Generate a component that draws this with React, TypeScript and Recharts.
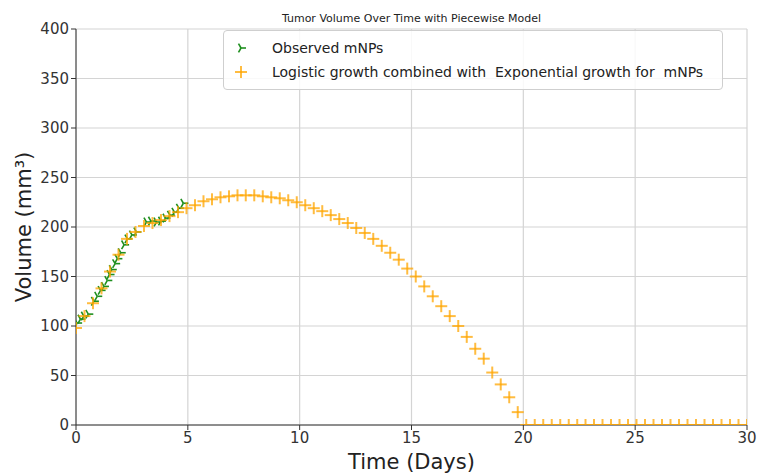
import React from 'react';
import { ScatterChart, Scatter, XAxis, YAxis, CartesianGrid, Legend } from 'recharts';

// observed tumour volume (mNPs group)
const observedDays = [
  0.05, 0.2, 0.35, 0.55, 0.8, 0.95, 1.1, 1.25, 1.4, 1.5, 1.6, 1.75, 1.85, 2.0,
  2.15, 2.3, 2.5, 2.7, 3.15, 3.35, 3.6, 3.8, 4.0, 4.2, 4.4, 4.6, 4.8,
];
const observedVolume = [
  103, 107, 110, 112, 125, 130, 136, 140, 146, 152, 157, 163, 168, 174,
  182, 188, 192, 195, 205, 206, 205, 206, 209, 212, 215, 219, 224,
];

// piecewise model evaluated on the 0..30 day grid
const modelDays = [
  0, 0.38, 0.76, 1.14, 1.52, 1.9, 2.28, 2.66, 3.04, 3.42, 3.8, 4.18, 4.56, 4.94,
  5.32, 5.7, 6.08, 6.46, 6.84, 7.22, 7.59, 7.97, 8.35, 8.73, 9.11, 9.49, 9.87,
  10.25, 10.63, 11.01, 11.39, 11.77, 12.15, 12.53, 12.91, 13.29, 13.67, 14.05,
  14.43, 14.81, 15.19, 15.57, 15.95, 16.33, 16.71, 17.09, 17.47, 17.85, 18.23,
  18.61, 18.99, 19.37, 19.75, 20.13, 20.51, 20.89, 21.27, 21.65, 22.03, 22.41,
  22.78, 23.16, 23.54, 23.92, 24.3, 24.68, 25.06, 25.44, 25.82, 26.2, 26.58,
  26.96, 27.34, 27.72, 28.1, 28.48, 28.86, 29.24, 29.62, 30,
];
const modelVolume = [
  98, 110, 123, 138, 155, 172, 188, 195, 201, 204, 207, 211, 215, 219,
  222, 226, 228, 230, 231, 232, 232, 232, 231, 230, 229, 227, 225,
  222, 219, 216, 212, 208, 204, 199, 194, 188, 181, 174,
  167, 158, 150, 140, 130, 120, 110, 100, 89, 77, 67,
  53, 41, 28, 13, 0, 0, 0, 0, 0, 0, 0,
  0, 0, 0, 0, 0, 0, 0, 0, 0, 0, 0,
  0, 0, 0, 0, 0, 0, 0, 0, 0,
];

const xTicks = [0, 5, 10, 15, 20, 25, 30];
const yTicks = [0, 50, 100, 150, 200, 250, 300, 350, 400];

const observedData = observedDays.map((day, i) => ({ day, volume: observedVolume[i] }));
const modelData = modelDays.map((day, i) => ({ day, volume: modelVolume[i] }));

const GREEN = '#1f8f1f';
const ORANGE = '#ffa500';
const FONT = '"DejaVu Sans", sans-serif';

const TriRight = ({ cx, cy }: any) => {
  const r = 5;
  return (
    <g stroke={GREEN} strokeWidth={1.6} fill="none">
      <line x1={cx} y1={cy} x2={cx + r} y2={cy} />
      <line x1={cx} y1={cy} x2={cx - r * 0.5} y2={cy - r * 0.866} />
      <line x1={cx} y1={cy} x2={cx - r * 0.5} y2={cy + r * 0.866} />
    </g>
  );
};

const Plus = ({ cx, cy }: any) => {
  const r = 6;
  return (
    <g stroke={ORANGE} strokeWidth={2} strokeOpacity={0.75}>
      <line x1={cx - r} y1={cy} x2={cx + r} y2={cy} />
      <line x1={cx} y1={cy - r} x2={cx} y2={cy + r} />
    </g>
  );
};

const YTitle = ({ viewBox }: any) => {
  const x = viewBox.x - 6;
  const y = viewBox.y + viewBox.height / 2;
  return (
    <text x={x} y={y} transform={`rotate(-90, ${x}, ${y})`} textAnchor="middle"
      dominantBaseline="central" fontSize={21} fill="#222" fontFamily={FONT}>
      Volume (mm³)
    </text>
  );
};

const XTitle = ({ viewBox }: any) => {
  const x = viewBox.x + viewBox.width / 2;
  return (
    <text x={x} y={viewBox.y + 44} textAnchor="middle" fontSize={21} fill="#222" fontFamily={FONT}>
      Time (Days)
    </text>
  );
};

const LegendBox = () => (
  <div style={{
    border: '1px solid #cfcfcf', borderRadius: 4, background: 'rgba(255,255,255,0.85)',
    padding: '5px 0', fontFamily: FONT, fontSize: 14, color: '#222', width: 498,
  }}>
    {[
      { label: 'Observed mNPs', Icon: TriRight },
      { label: 'Logistic growth combined with  Exponential growth for  mNPs', Icon: Plus },
    ].map(({ label, Icon }) => (
      <div key={label} style={{ display: 'flex', alignItems: 'center', height: 24 }}>
        <svg width={20} height={20} style={{ marginLeft: 7 }}>
          <Icon cx={10} cy={10} />
        </svg>
        <span style={{ marginLeft: 21, whiteSpace: 'pre' }}>{label}</span>
      </div>
    ))}
  </div>
);

export default function App() {
  return (
    <div style={{ position: 'absolute', left: 0, top: 0, width: 758, height: 473, background: '#fff', fontFamily: FONT }}>
      <div style={{
        position: 'absolute', left: 76, width: 671, top: 12, textAlign: 'center',
        fontSize: 11, color: '#222', zIndex: 2,
      }}>
        Tumor Volume Over Time with Piecewise Model
      </div>
      <ScatterChart width={758} height={473} margin={{ top: 29, right: 11, bottom: 0, left: 30 }}>
        <CartesianGrid stroke="#d4d4d4" strokeWidth={1.2} />
        <XAxis
          dataKey="day" type="number" domain={[0, 30]} ticks={xTicks} allowDataOverflow
          height={48} tickSize={5} stroke="#333"
          tick={{ fontSize: 15, fill: '#333', fontFamily: FONT }}
          label={<XTitle />}
        />
        <XAxis xAxisId="top" orientation="top" type="number" domain={[0, 30]} height={0}
          tick={false} tickLine={false} stroke="#333" />
        <YAxis
          dataKey="volume" type="number" domain={[0, 400]} ticks={yTicks} allowDataOverflow
          width={46} tickSize={5} stroke="#333"
          tick={{ fontSize: 15, fill: '#333', fontFamily: FONT }}
          label={<YTitle />}
        />
        <YAxis yAxisId="right" orientation="right" type="number" domain={[0, 400]} width={0}
          tick={false} tickLine={false} stroke="#333" />
        <Legend
          layout="horizontal" verticalAlign="middle" align="center"
          wrapperStyle={{ left: 223, top: 30, width: 500 }}
          content={() => <LegendBox />}
        />
        <Scatter name="Observed mNPs" data={observedData} shape={<TriRight />} isAnimationActive={false} />
        <Scatter name="Model" data={modelData} shape={<Plus />} isAnimationActive={false} />
      </ScatterChart>
    </div>
  );
}
